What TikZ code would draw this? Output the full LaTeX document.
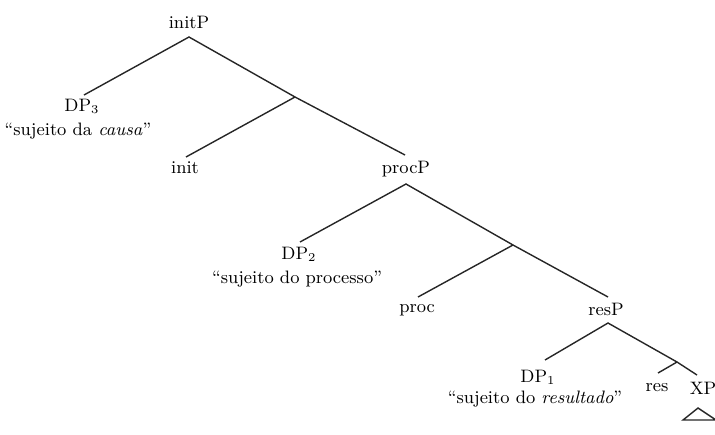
\documentclass[tikz,border=0pt]{standalone}
\begin{document}
\begin{tikzpicture}[x=0.5pt,y=-0.5pt,
  lbl/.style={inner sep=0pt,font=\fontsize{9}{11}\selectfont},
  branch/.style={line width=0.7pt,draw=black!85}]
\useasboundingbox (0,0) rectangle (715,434);

% labels
\node[lbl] (initP) at (189,22) {initP};
\node[lbl] (DP3) at (82,106) {DP$_3$};
\node[lbl] (DP3g) at (78,131) {``sujeito da \emph{causa}''};
\node[lbl] (init) at (185,168) {init};
\node[lbl] (procP) at (406,169) {procP};
\node[lbl] (DP2) at (299,254) {DP$_2$};
\node[lbl] (DP2g) at (297,279) {``sujeito do processo''};
\node[lbl] (proc) at (417,310) {proc};
\node[lbl] (resP) at (606,309) {resP};
\node[lbl] (DP1) at (538,377) {DP$_1$};
\node[lbl] (DP1g) at (535,399) {``sujeito do \emph{resultado}''};
\node[lbl] (res) at (657,388) {res};
\node[lbl] (XP) at (703,388) {XP};

% attachment points
\coordinate (initPb) at (189,37);
\coordinate (DP3t) at (84,95);
\coordinate (initbar) at (295,97);
\coordinate (initt) at (186,157);
\coordinate (procPt) at (405,155);
\coordinate (procPb) at (406,184);
\coordinate (DP2t) at (300,242);
\coordinate (procbar) at (513,245);
\coordinate (proct) at (418,297);
\coordinate (resPt) at (608,297);
\coordinate (resPb) at (608,323);
\coordinate (DP1t) at (545,360);
\coordinate (resbar) at (677,362);
\coordinate (rest) at (658,373);
\coordinate (XPt) at (697,375);
\coordinate (triA) at (698,408);
\coordinate (triL) at (683,420);
\coordinate (triR) at (716,420);

% branches
\draw[branch] (DP3t) -- (initPb) -- (initbar) -- (procPt);
\draw[branch] (initbar) -- (initt);
\draw[branch] (DP2t) -- (procPb) -- (procbar) -- (resPt);
\draw[branch] (procbar) -- (proct);
\draw[branch] (DP1t) -- (resPb) -- (resbar) -- (XPt);
\draw[branch] (resbar) -- (rest);
\draw[branch] (triR) -- (triL) -- (triA) -- (triR);
\end{tikzpicture}
\end{document}
